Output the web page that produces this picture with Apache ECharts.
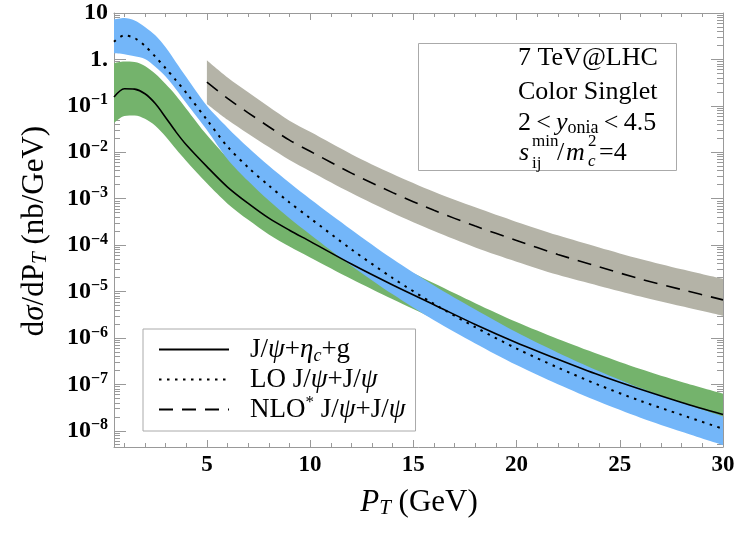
<!DOCTYPE html>
<html>
<head>
<meta charset="UTF-8">
<title>J/psi pair cross sections</title>
<script src="https://cdn.jsdelivr.net/npm/echarts@6/dist/echarts.min.js"></script>
<style>
    html, body { margin: 0; padding: 0; background: #fff; }
    #chart { width: 750px; height: 540px; }
</style>
</head>
<body>
<div id="chart"></div>
<script>
    // P_T grid (GeV) of the J/psi+eta_c+g and LO J/psi+J/psi curves
    const ptGrid = [0.5, 1, 1.5, 2, 2.5, 3, 3.5, 4, 5, 6, 7, 8, 9, 10, 12, 14, 16, 18, 20, 22, 24, 26, 28, 30];

    // J/psi + eta_c + g  (nb/GeV)
    const etaCentral = [0.155, 0.234, 0.229, 0.182, 0.112, 0.0562, 0.0275, 0.0145, 4.9e-3, 1.78e-3, 7.9e-4, 3.8e-4, 2.09e-4, 1.20e-4,
        3.9e-5, 1.38e-5, 5.2e-6, 1.95e-6, 7.9e-7, 3.47e-7, 1.58e-7, 7.8e-8, 4.07e-8, 2.24e-8];
    const etaUpper = [0.83, 0.90, 0.88, 0.72, 0.49, 0.295, 0.168, 0.087, 0.0235, 7.6e-3, 3.0e-3, 1.35e-3, 6.9e-4, 3.8e-4,
        1.17e-4, 4.1e-5, 1.5e-5, 5.6e-6, 2.19e-6, 9.5e-7, 4.4e-7, 2.14e-7, 1.12e-7, 6.3e-8];
    const etaLower = [0.0427, 0.0603, 0.0617, 0.0525, 0.0372, 0.0219, 0.0117, 6.5e-3, 2.14e-3, 7.8e-4, 3.5e-4, 1.70e-4, 9.3e-5, 5.4e-5,
        1.86e-5, 6.8e-6, 2.6e-6, 1.0e-6, 4.1e-7, 1.82e-7, 8.3e-8, 4.2e-8, 2.19e-8, 1.20e-8];

    // LO J/psi + J/psi
    const loCentral = [2.40, 3.31, 2.88, 1.95, 1.15, 0.646, 0.355, 0.191, 0.0501, 0.0132, 4.7e-3, 1.91e-3, 8.3e-4, 3.8e-4,
        8.1e-5, 1.95e-5, 5.4e-6, 1.70e-6, 5.9e-7, 2.30e-7, 9.6e-8, 4.4e-8, 2.19e-8, 1.10e-8];
    const loUpper = [7.24, 7.76, 6.92, 5.01, 3.31, 1.82, 0.871, 0.417, 0.100, 0.0339, 0.0126, 5.1e-3, 2.19e-3, 9.8e-4,
        2.14e-4, 5.0e-5, 1.35e-5, 4.1e-6, 1.32e-6, 4.8e-7, 1.91e-7, 8.3e-8, 4.0e-8, 2.04e-8];
    const loLower = [1.35, 1.29, 1.17, 1.02, 0.692, 0.427, 0.229, 0.115, 0.0302, 7.1e-3, 2.40e-3, 9.1e-4, 3.8e-4, 1.70e-4,
        3.6e-5, 8.7e-6, 2.40e-6, 7.6e-7, 2.6e-7, 1.0e-7, 4.2e-8, 1.91e-8, 9.5e-9, 4.9e-9];

    // NLO* J/psi + J/psi
    const nloPt = [5, 6, 7, 8, 9, 10, 12, 14, 16, 18, 20, 22, 24, 26, 28, 30];
    const nloCentral = [0.324, 0.145, 0.0708, 0.0355, 0.0182, 0.0105, 3.55e-3, 1.35e-3, 5.6e-4, 2.57e-4, 1.26e-4, 6.3e-5,
        3.4e-5, 1.86e-5, 1.10e-5, 6.6e-6];
    const nloUpper = [0.955, 0.407, 0.195, 0.0955, 0.0479, 0.0275, 9.1e-3, 3.4e-3, 1.41e-3, 6.5e-4, 3.16e-4, 1.62e-4,
        8.9e-5, 5.0e-5, 3.0e-5, 1.86e-5];
    const nloLower = [0.110, 0.0501, 0.0251, 0.0129, 6.8e-3, 3.9e-3, 1.32e-3, 4.9e-4, 2.0e-4, 8.9e-5, 4.4e-5, 2.29e-5,
        1.32e-5, 7.8e-6, 4.8e-6, 3.0e-6];

    // ticks
    const xMajorTicks = [5, 10, 15, 20, 25, 30];
    const xMinorTicks = [1, 2, 3, 4, 6, 7, 8, 9, 11, 12, 13, 14, 16, 17, 18, 19, 21, 22, 23, 24, 26, 27, 28, 29];
    const yDecades = [-8, -7, -6, -5, -4, -3, -2, -1, 0, 1]; // powers of ten
    const yMinorFactors = [2, 3, 4, 5, 6, 7, 8, 9];

    const names = ['J/\u03c8+\u03b7c+g', 'LO J/\u03c8+J/\u03c8', 'NLO* J/\u03c8+J/\u03c8'];
    const legendText = {};
    legendText[names[0]] = '{sp| }{n|J/}{i|\u03c8}{n|+}{i|\u03b7}{sub|c}{n|+g}';
    legendText[names[1]] = '{sp| }{n|LO J/}{i|\u03c8}{n|+J/}{i|\u03c8}';
    legendText[names[2]] = '{sp| }{n|NLO}{sup|*}{n| J/}{i|\u03c8}{n|+J/}{i|\u03c8}';

    const SERIF = 'Liberation Serif';
    const FRAME = '#999';
    const SMOOTH = 0.3;
    // y axis runs over decades (log10 of nb/GeV), shifted by OFF so every value is positive for stacking
    const OFF = 10;
    const yMin = -8.35 + OFF, yMax = 1 + OFF;

    const lg = v => Math.log10(v) + OFF;
    const toPairs = (xs, ys) => xs.map((x, i) => [x, lg(ys[i])]);

    let yMinorTicks = [];
    for (let n = -9; n <= 0; n++) {
        yMinorFactors.forEach(k => {
            const v = n + Math.log10(k) + OFF;
            if (v > yMin && v < yMax) yMinorTicks.push(v);
        });
    }
    const yMajorTicks = yDecades.map(d => d + OFF);

    /* a shaded band = invisible lower line + stacked difference.
       y is put in the first column so that it is the stacked dimension */
    function band(id, xs, lo, hi, color) {
        const base = {
            type: 'line', stack: id, symbol: 'none', smooth: SMOOTH, silent: true,
            encode: { x: 1, y: 0 }, lineStyle: { opacity: 0, width: 0 }
        };
        return [
            Object.assign({ name: id + '-lo', data: xs.map((x, i) => [lg(lo[i]), x]) }, base),
            Object.assign({
                name: id + '-band', data: xs.map((x, i) => [lg(hi[i]) - lg(lo[i]), x]),
                areaStyle: { color: color, opacity: 1 }
            }, base)
        ];
    }

    function xAxisOf(pos, ticks, len, withLine, withLabel) {
        return {
            type: 'value', position: pos, min: 0.5, max: 30,
            axisLine: { show: withLine, onZero: false, lineStyle: { color: FRAME, width: 1 } },
            axisTick: { show: true, inside: true, length: len, customValues: ticks, lineStyle: { color: FRAME } },
            axisLabel: {
                show: withLabel, customValues: xMajorTicks, margin: 7,
                fontFamily: SERIF, fontWeight: 'bold', fontSize: 23, color: '#000'
            },
            splitLine: { show: false }
        };
    }

    function yAxisOf(pos, ticks, len, withLine, withLabel) {
        return {
            type: 'value', position: pos, min: yMin, max: yMax,
            axisLine: { show: withLine, onZero: false, lineStyle: { color: FRAME, width: 1 } },
            axisTick: { show: true, inside: true, length: len, customValues: ticks, lineStyle: { color: FRAME } },
            axisLabel: {
                show: withLabel, customValues: yMajorTicks, margin: 6,
                formatter: function (v) {
                    const e = Math.round(v - OFF);
                    if (e === 1) return '{b|10}';
                    if (e === 0) return '{b|1.}';
                    return '{b|10}{s|\u2212' + (-e) + '}';
                },
                rich: {
                    b: { fontFamily: SERIF, fontWeight: 'bold', fontSize: 24, color: '#000', lineHeight: 27 },
                    s: { fontFamily: SERIF, fontWeight: 'bold', fontSize: 16, color: '#000', lineHeight: 15, verticalAlign: 'top' }
                }
            },
            splitLine: { show: false }
        };
    }

    const lineCommon = { type: 'line', symbol: 'none', smooth: SMOOTH, itemStyle: { color: '#000' } };

    const series = [].concat(
        band('nlo', nloPt, nloLower, nloUpper, '#b4b3a7'),
        band('eta', ptGrid, etaLower, etaUpper, '#74b36c'),
        band('lo', ptGrid, loLower, loUpper, '#73b6f9'),
        [
            Object.assign({ name: names[0], data: toPairs(ptGrid, etaCentral), lineStyle: { color: '#000', width: 1.6, type: 'solid' } }, lineCommon),
            Object.assign({ name: names[1], data: toPairs(ptGrid, loCentral), lineStyle: { color: '#000', width: 2, type: [2.5, 5.5] } }, lineCommon),
            Object.assign({ name: names[2], data: toPairs(nloPt, nloCentral), lineStyle: { color: '#000', width: 1.6, type: [14, 9] } }, lineCommon)
        ]
    );

    const titleRich = {
        n: { fontFamily: SERIF, fontSize: 31, lineHeight: 32 },
        i: { fontFamily: SERIF, fontSize: 31, fontStyle: 'italic', lineHeight: 32 },
        sub: { fontFamily: SERIF, fontSize: 21, fontStyle: 'italic', lineHeight: 17, verticalAlign: 'bottom' }
    };

    function label(x, y, text, font) {
        return { type: 'text', x: x, y: y, z: 51, style: { text: text, font: font, fill: '#000', verticalAlign: 'middle' } };
    }

    const option = {
        animation: false,
        backgroundColor: '#fff',
        grid: { left: 114, right: 27, top: 13, bottom: 93, containLabel: false },
        xAxis: [
            xAxisOf('bottom', xMajorTicks, 7, true, true),
            xAxisOf('bottom', xMinorTicks, 4, false, false),
            xAxisOf('top', xMajorTicks, 7, true, false),
            xAxisOf('top', xMinorTicks, 4, false, false)
        ],
        yAxis: [
            yAxisOf('left', yMajorTicks, 12, true, true),
            yAxisOf('left', yMinorTicks, 6, false, false),
            yAxisOf('right', yMajorTicks, 12, true, false),
            yAxisOf('right', yMinorTicks, 6, false, false)
        ],
        legend: {
            data: names,
            orient: 'vertical', left: 143, top: 329,
            padding: [7, 10, 8, 15],
            itemWidth: 70, itemHeight: 20, itemGap: 1,
            backgroundColor: '#fff', borderColor: '#aaa', borderWidth: 1,
            selectedMode: false,
            itemStyle: { color: 'rgba(0,0,0,0)', opacity: 0, borderWidth: 0 },
            formatter: name => legendText[name],
            textStyle: {
                rich: {
                    sp: { width: 16 },
                    n: { fontFamily: SERIF, fontSize: 27, color: '#000', lineHeight: 31 },
                    i: { fontFamily: SERIF, fontSize: 27, fontStyle: 'italic', color: '#000', lineHeight: 31 },
                    sub: { fontFamily: SERIF, fontSize: 18, fontStyle: 'italic', color: '#000', lineHeight: 17, verticalAlign: 'bottom' },
                    sup: { fontFamily: SERIF, fontSize: 17, color: '#000', lineHeight: 17, verticalAlign: 'top' }
                }
            }
        },
        graphic: [
            // info box
            { type: 'rect', shape: { x: 418.5, y: 43.5, width: 258, height: 127 }, style: { fill: '#fff', stroke: '#aaa', lineWidth: 1 }, z: 50 },
            label(518, 58, '7 TeV@LHC', '26px "Liberation Serif"'),
            label(518, 92, 'Color Singlet', '26px "Liberation Serif"'),
            {
                type: 'text', x: 518, y: 123, z: 51,
                style: {
                    text: '{n|2\u2009<\u2009}{i|y}{sub|onia}{n|\u2009<\u20094.5}', verticalAlign: 'middle', fill: '#000',
                    rich: {
                        n: { fontFamily: SERIF, fontSize: 26, lineHeight: 28 },
                        i: { fontFamily: SERIF, fontSize: 26, fontStyle: 'italic', lineHeight: 28 },
                        sub: { fontFamily: SERIF, fontSize: 18, lineHeight: 15, verticalAlign: 'bottom' }
                    }
                }
            },
            label(519, 153, 's', 'italic 26px "Liberation Serif"'),
            label(532, 142, 'min', '17px "Liberation Serif"'),
            label(532, 164, 'ij', '17px "Liberation Serif"'),
            label(557, 153, '/', '26px "Liberation Serif"'),
            label(566, 153, 'm', 'italic 26px "Liberation Serif"'),
            label(588, 142, '2', '17px "Liberation Serif"'),
            label(588, 162, 'c', 'italic 17px "Liberation Serif"'),
            label(599, 153, '=4', '26px "Liberation Serif"'),
            // axis titles
            {
                type: 'text', x: 419, y: 503, z: 51,
                style: { text: '{i|P}{sub|T}{n| (GeV)}', align: 'center', verticalAlign: 'middle', fill: '#000', rich: titleRich }
            },
            {
                type: 'text', x: 35, y: 231, z: 51, rotation: Math.PI / 2,
                style: { text: '{n|d}{i|\u03c3}{n|/dP}{sub|T}{n| (nb/GeV)}', align: 'center', verticalAlign: 'middle', fill: '#000', rich: titleRich }
            }
        ],
        series: series
    };

    const chart = echarts.init(document.getElementById('chart'), null, { renderer: 'canvas' });
    chart.setOption(option);
</script>
</body>
</html>
